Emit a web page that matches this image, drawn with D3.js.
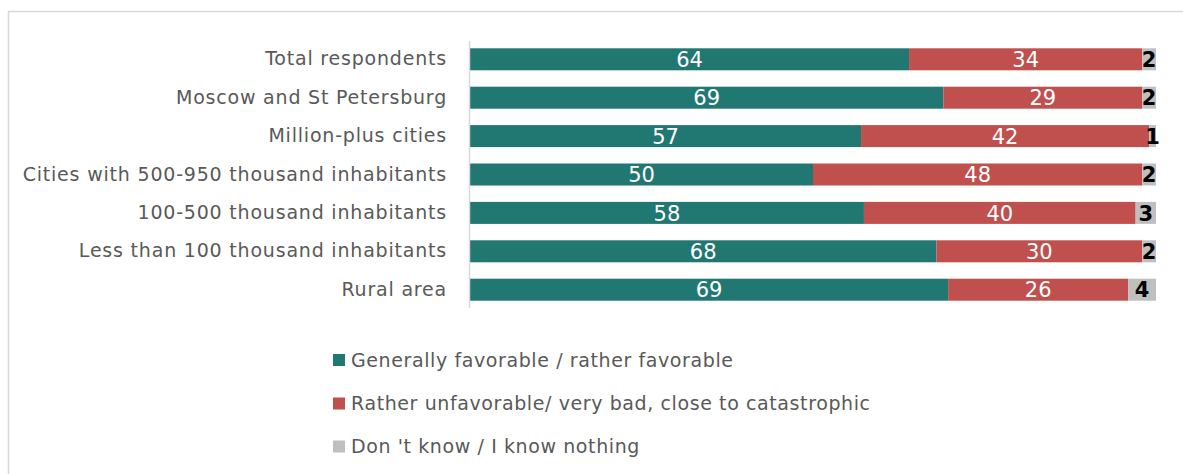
<!DOCTYPE html>
<html><head><meta charset="utf-8">
<script src="https://cdn.jsdelivr.net/npm/d3@7"></script>
<style>body{margin:0;background:#fff;} svg{display:block;}</style>
</head><body>
<script>
const categories = ["Total respondents","Moscow and St Petersburg","Million-plus cities","Cities with 500-950 thousand inhabitants","100-500 thousand inhabitants","Less than 100 thousand inhabitants","Rural area"];
const favorable = [64,69,57,50,58,68,69];
const unfavorable = [34,29,42,48,40,30,26];
const dontKnow = [2,2,1,2,3,2,4];
const seriesNames = ["Generally favorable / rather favorable","Rather unfavorable/ very bad, close to catastrophic","Don 't know / I know nothing"];
const colors = ["#217872","#C0504D","#BFBFBF"];
const labelColors = ["#ffffff","#ffffff","#000000"];

const W=1183,H=474;
const svg=d3.select("body").append("svg").attr("width",W).attr("height",H);
svg.append("path").attr("d",`M8.5,${H}V11.5H${W}`).attr("fill","none").attr("stroke","#d9d9d9").attr("stroke-width",1.5);

const rows = categories.map((c,i)=>({cat:c, vals:[favorable[i],unfavorable[i],dontKnow[i]]}));
const x=d3.scaleLinear().domain([0,1]).range([470,1156]);
const y=d3.scaleBand().domain(categories).range([41,308]).paddingInner(0.427).paddingOuter(0.19);
const font="'DejaVu Sans', sans-serif";

rows.forEach(r=>{
  const total=d3.sum(r.vals);
  let acc=0;
  r.vals.forEach((v,j)=>{
    const x0=x(acc/total), x1=x((acc+v)/total);
    svg.append("rect").attr("x",x0).attr("y",y(r.cat)).attr("width",x1-x0).attr("height",y.bandwidth()).attr("fill",colors[j]);
    svg.append("text").attr("x",(x0+x1)/2).attr("y",y(r.cat)+y.bandwidth()/2).attr("dy","0.37em")
      .attr("text-anchor","middle").attr("fill",labelColors[j]).attr("font-family",font).attr("font-size",21)
      .attr("font-weight", j===2?"bold":"normal").text(v);
    acc+=v;
  });
});

svg.append("line").attr("x1",469.5).attr("x2",469.5).attr("y1",41).attr("y2",308).attr("stroke","#d9d9d9").attr("stroke-width",1.5);

const ax=svg.append("g").attr("transform","translate(460,0)").call(d3.axisLeft(y).tickSize(0).tickPadding(13));
ax.select(".domain").remove();
ax.selectAll("text").attr("font-family",font).attr("font-size",19).attr("letter-spacing","0.8px").attr("fill","#595959");

const leg=svg.append("g");
seriesNames.forEach((s,i)=>{
  const cy=[360,403.5,446.5][i];
  leg.append("rect").attr("x",333).attr("y",cy-6).attr("width",12).attr("height",12).attr("fill",colors[i]);
  leg.append("text").attr("x",351).attr("y",cy).attr("dy","0.36em").attr("font-family",font).attr("font-size",19).attr("letter-spacing","0.6px").attr("fill","#595959").text(s);
});
</script>
</body></html>
